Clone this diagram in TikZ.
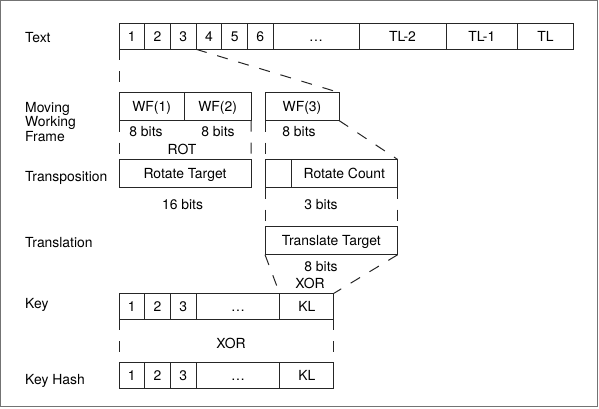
\documentclass[tikz,border=0pt]{standalone}
\usepackage{fontspec}
\setmainfont{TeX Gyre Heros}
\usetikzlibrary{positioning}

\begin{document}
\begin{tikzpicture}[x=1pt, y=-1pt, font=\fontsize{13.9}{14.5}\selectfont]
\tikzstyle{cell}=[rectangle, draw=black!85, line width=1pt, outer sep=0pt, inner sep=0pt, minimum height=26pt, text height=10pt, text depth=0pt]
\tikzstyle{tall}=[cell, minimum height=28pt]
\tikzstyle{label}=[anchor=west, inner sep=0pt, text height=10pt, text depth=0pt]
\tikzstyle{note}=[inner sep=0pt, text height=10pt, text depth=0pt]
\tikzstyle{connect}=[line width=1pt, draw=black!85, dash pattern=on 11pt off 11pt]
\tikzstyle{frame}=[draw=black!55, line width=1.2pt]

  \useasboundingbox (0,0) rectangle (599,409);
  \draw[frame] (0.8,0.8) rectangle (597.2,406.8);

  % row labels
  \node[label] (ltext)  at (25,38)    {Text};
  \node[anchor=north west, inner sep=0pt, align=left] (lframe) at (25,102) {Moving\\Working\\Frame};
  \node[label] (ltrans) at (25,176)   {Transposition};
  \node[label] (ltrl)   at (25,242.5) {Translation};
  \node[label] (lkey)   at (25,303.5) {Key};
  \node[label] (lhash)  at (25,379)   {Key Hash};

  % text
  \node[cell, minimum width=25.7pt, anchor=north west] (t1) at (119,23.3) {1};
  \node[cell, minimum width=25.7pt] (t2)  [right=0pt of t1]  {2};
  \node[cell, minimum width=25.7pt] (t3)  [right=0pt of t2]  {3};
  \node[cell, minimum width=25.7pt] (t4)  [right=0pt of t3]  {4};
  \node[cell, minimum width=25.7pt] (t5)  [right=0pt of t4]  {5};
  \node[cell, minimum width=25.7pt] (t6)  [right=0pt of t5]  {6};
  \node[cell, minimum width=85.8pt] (tdots) [right=0pt of t6] {\dots};
  \node[cell, minimum width=87pt]   (tl2) [right=0pt of tdots] {TL-2};
  \node[cell, minimum width=71.7pt] (tl1) [right=0pt of tl2] {TL-1};
  \node[cell, minimum width=55.6pt] (tl)  [right=0pt of tl1] {TL};

  % moving working frame
  \node[tall, minimum width=65.3pt, anchor=north west] (wf1) at (119,92.5) {WF(1)};
  \node[tall, minimum width=66.7pt] (wf2) [right=0pt of wf1] {WF(2)};
  \node[tall, minimum width=74pt, anchor=north west] (wf3) at (265,92.5) {WF(3)};

  \node[note] (b1) at (146,131.7) {8 bits};
  \node[note] (b2) at (218,131.7) {8 bits};
  \node[note] (b3) at (299,131.7) {8 bits};
  \node[note] (rot) at (182,149.3) {ROT};

  % transposition
  \node[tall, minimum width=132pt, anchor=north west] (rt) at (119,159.5) {Rotate Target};
  \node[tall, minimum width=26pt, anchor=north west] (rc0) at (265,159.5) {};
  \node[tall, minimum width=106.7pt] (rc) [right=0pt of rc0] {Rotate Count};

  \node[note] (b16) at (182.5,204.2) {16 bits};
  \node[note] (b3c) at (321,204.2)   {3 bits};

  % translation
  \node[tall, minimum width=132.7pt, anchor=north west] (tt) at (265,226.7) {Translate Target};

  \node[note] (b8)  at (321,266.7) {8 bits};
  \node[note] (xor1) at (310,283.3) {XOR};

  % key
  \node[cell, minimum width=25.7pt, anchor=north west] (k1) at (119,293.3) {1};
  \node[cell, minimum width=25.7pt] (k2) [right=0pt of k1] {2};
  \node[cell, minimum width=25.9pt] (k3) [right=0pt of k2] {3};
  \node[cell, minimum width=83.3pt] (kdots) [right=0pt of k3] {\dots};
  \node[cell, minimum width=54.3pt] (kl) [right=0pt of kdots] {KL};

  \node[note] (xor2) at (231,343.3) {XOR};

  % key hash
  \node[cell, minimum width=25.7pt, anchor=north west] (h1) at (119,362) {1};
  \node[cell, minimum width=25.7pt] (h2) [right=0pt of h1] {2};
  \node[cell, minimum width=25.9pt] (h3) [right=0pt of h2] {3};
  \node[cell, minimum width=83.3pt] (hdots) [right=0pt of h3] {\dots};
  \node[cell, minimum width=54.3pt] (hl) [right=0pt of hdots] {KL};

  % dashed guides
  \draw[connect] (t1.south west) -- (wf1.north west);
  \draw[connect] (t4.south west) -- (wf3.north east);
  \draw[connect] (wf1.south west) -- (rt.north west);
  \draw[connect] (wf2.south east) -- (rt.north east);
  \draw[connect] (wf3.south west) -- (rc0.north west);
  \draw[connect] (wf3.south east) -- (rc.north east);
  \draw[connect] (rc0.south west) -- (tt.north west);
  \draw[connect] (rc.south east) -- (tt.north east);
  \draw[connect] (tt.south west) -- (kl.north west);
  \draw[connect] (tt.south east) -- (kl.north east);
  \draw[connect] (k1.south west) -- (h1.north west);
  \draw[connect] (kl.south east) -- (hl.north east);

\end{tikzpicture}
\end{document}
